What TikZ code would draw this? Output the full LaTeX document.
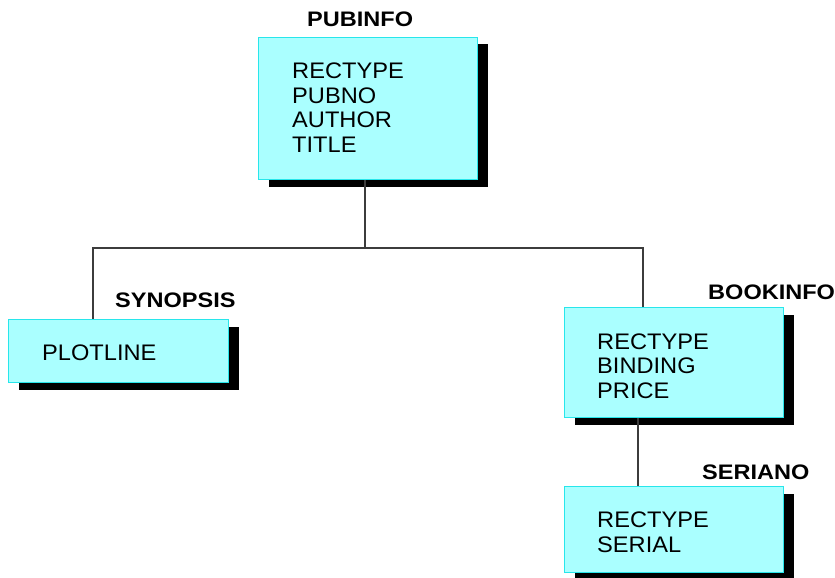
\documentclass[tikz,border=0pt]{standalone}
\usepackage{fontspec}
\setmainfont{Liberation Sans}
\definecolor{recfill}{RGB}{170,255,255}
\definecolor{recedge}{RGB}{40,230,235}
\definecolor{linkgray}{RGB}{60,60,60}
\begin{document}
\begin{tikzpicture}[x=1pt,y=-1pt,
  record/.style={draw=recedge, line width=1pt, fill=recfill, rectangle,
    anchor=north west, inner sep=0pt,
    preaction={draw=none, fill=black, transform canvas={xshift=10pt,yshift=-7pt}}},
  recname/.style={anchor=base west, inner sep=0pt, xscale=1.12, transform shape,
    font=\fontsize{21}{21}\selectfont\bfseries},
  % anchored at the baseline of the last line
  fields/.style={anchor=base west, inner sep=0pt, align=left, xscale=1.05, transform shape,
    font=\fontsize{22.5}{24.5}\selectfont},
  link/.style={draw=linkgray, line width=1.2pt}]
\useasboundingbox (0,0) rectangle (835,578);

% segment records
\node[record, minimum width=219pt, minimum height=142pt] (pub) at (258,37) {};
\node[record, minimum width=220pt, minimum height=63pt]  (syn) at (8,319) {};
\node[record, minimum width=219pt, minimum height=110pt] (book) at (564,307) {};
\node[record, minimum width=219pt, minimum height=86pt]  (ser) at (564,486) {};

% segment names
\node[recname] (pubN)  at (307,27)  {PUBINFO};
\node[recname] (synN)  at (115,307) {SYNOPSIS};
\node[recname] (bookN) at (708,299) {BOOKINFO};
\node[recname] (serN)  at (702,479) {SERIANO};

% field lists
\node[fields] (pubF)  at (292,152) {RECTYPE\\PUBNO\\AUTHOR\\TITLE};
\node[fields] (synF)  at (42,360)  {PLOTLINE};
\node[fields] (bookF) at (597,398) {RECTYPE\\BINDING\\PRICE};
\node[fields] (serF)  at (597,552) {RECTYPE\\SERIAL};

% parent-child links
\coordinate (fork) at (365,248);
\draw[link] (pub.south -| fork) -- (fork);
\draw[link] (fork) -| (syn.north -| 93,0);
\draw[link] (fork) -| (book.north -| 643,0);
\draw[link] (book.south -| 638,0) -- (ser.north -| 638,0);
\end{tikzpicture}
\end{document}
